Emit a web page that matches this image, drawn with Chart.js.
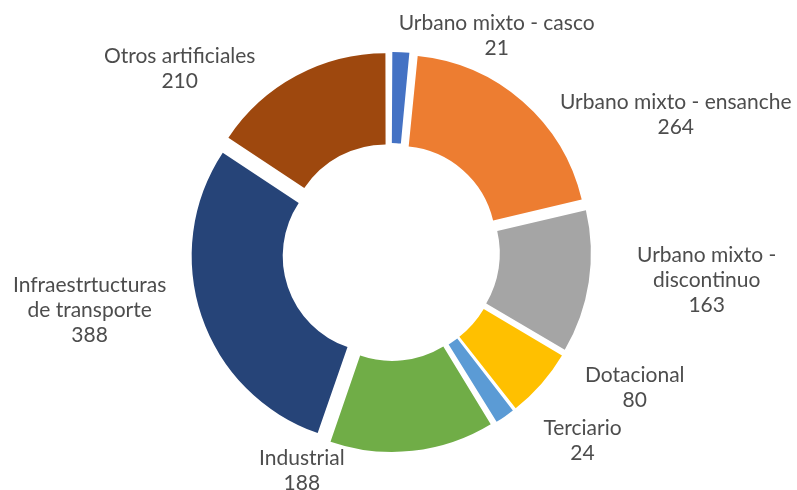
<!DOCTYPE html>
<html>
<head>
<meta charset="utf-8">
<script src="https://cdn.jsdelivr.net/npm/chart.js@4/dist/chart.umd.min.js"></script>
<style>
  html, body { margin: 0; padding: 0; background: #fff; }
  #wrap { width: 797px; height: 490px; }
</style>
</head>
<body>
<div id="wrap"><canvas id="myChart" width="797" height="490"></canvas></div>
<script>
// data
const categories = [
  ["Urbano mixto - casco"],
  ["Urbano mixto - ensanche"],
  ["Urbano mixto -", "discontinuo"],
  ["Dotacional"],
  ["Terciario"],
  ["Industrial"],
  ["Infraestrtucturas", "de transporte"],
  ["Otros artificiales"],
];
const values = [21, 264, 163, 80, 24, 188, 388, 210];
const colors = ["#4472C4", "#ED7D31", "#A5A5A5", "#FFC000", "#5B9BD5", "#70AD47", "#264478", "#9E480E"];

// where each label sits: [angle clockwise from top (deg), distance from centre (px)]
const labelPolar = [
  [26, 241], [64.3, 316], [95.2, 317], [119.1, 279],
  [134.6, 269], [202.2, 236], [259, 307], [311, 280],
];

const EXPLODE = 13; // px every slice moves out
const total = values.reduce((a, b) => a + b, 0);

// chart.js moves an arc by offset/4 and grows thin arcs by offset/4*fix,
// so scale the offset to get roughly the same outward move on every slice
const explodeOffset = (ctx) => {
  const circ = (ctx.dataset.data[ctx.dataIndex] / total) * Math.PI * 2;
  const fix = 1 - Math.sin(Math.min(Math.PI, circ));
  return (4 * EXPLODE) / (1 + fix);
};

const outsideLabels = {
  id: "outsideLabels",
  afterDatasetsDraw(chart) {
    const ctx = chart.ctx;
    const meta = chart.getDatasetMeta(0);
    const lineH = 25;
    ctx.save();
    ctx.fillStyle = "#4d4d4d";
    ctx.font = "21px Lato";
    ctx.textAlign = "center";
    ctx.textBaseline = "middle";
    meta.data.forEach((arc, i) => {
      const lines = categories[i].concat([String(values[i])]);
      const a = (labelPolar[i][0] * Math.PI) / 180;
      const cx = arc.x + Math.sin(a) * labelPolar[i][1];
      const cy = arc.y - Math.cos(a) * labelPolar[i][1];
      const top = cy - ((lines.length - 1) * lineH) / 2;
      lines.forEach((t, k) => ctx.fillText(t, cx, top + k * lineH));
    });
    ctx.restore();
  },
};

new Chart(document.getElementById("myChart").getContext("2d"), {
  type: "doughnut",
  data: {
    labels: categories.map((c) => c.join(" ")),
    datasets: [
      {
        data: values,
        backgroundColor: colors,
        borderWidth: 0,
        offset: explodeOffset,
        hoverOffset: 0,
      },
    ],
  },
  options: {
    responsive: false,
    animation: false,
    radius: 187,
    cutout: "51.3%",
    layout: { padding: { left: 0, right: 15, top: 14, bottom: 0 } },
    plugins: {
      legend: { display: false },
      tooltip: { enabled: false },
    },
    events: [],
  },
  plugins: [outsideLabels],
});
</script>
</body>
</html>
